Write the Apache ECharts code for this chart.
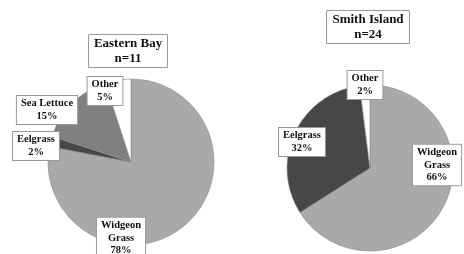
<!DOCTYPE html>
<html>
<head>
<meta charset="utf-8">
<script src="https://cdn.jsdelivr.net/npm/echarts@6/dist/echarts.min.js"></script>
<style>
  html, body { margin: 0; padding: 0; background: #fff; }
  #chart { width: 464px; height: 254px; }
</style>
</head>
<body>
<div id="chart"></div>
<script>
// 两个站点的食物组成（百分比）
const easternCats = ['Widgeon Grass', 'Eelgrass', 'Sea Lettuce', 'Other'];
const easternVals = [78, 2, 15, 5];
const smithCats = ['Widgeon Grass', 'Eelgrass', 'Other'];
const smithVals = [66, 32, 2];

const sliceColors = {
  'Widgeon Grass': '#a9a9a9',
  'Eelgrass': '#474747',
  'Sea Lettuce': '#808080',
  'Other': '#ffffff'
};

// label box centres, keyed by name
const easternLabelPos = {
  'Widgeon Grass': [121, 238],
  'Eelgrass': [36, 146],
  'Sea Lettuce': [47, 110],
  'Other': [105, 91]
};
const smithLabelPos = {
  'Widgeon Grass': [437, 165],
  'Eelgrass': [302, 142],
  'Other': [365, 85]
};

const font = "'Liberation Serif', 'Times New Roman', serif";

function buildData(cats, vals) {
  return cats.map((c, i) => ({ name: c, value: vals[i], itemStyle: { color: sliceColors[c] } }));
}

function pieSeries(cats, vals, center, labelPos) {
  return {
    type: 'pie',
    center,
    radius: 83,
    startAngle: 90,
    clockwise: true,
    silent: true,
    data: buildData(cats, vals),
    itemStyle: { borderColor: '#8a8a8a', borderWidth: 0.6 },
    labelLine: { show: false },
    label: {
      show: true,
      position: 'inside',
      overflow: 'none',
      formatter: p => p.name.replace('Widgeon ', 'Widgeon\n') + '\n' + p.value + '%',
      fontFamily: font,
      fontWeight: 'bold',
      fontSize: 10.5,
      lineHeight: 12.5,
      color: '#111',
      backgroundColor: '#fff',
      borderColor: '#9a9a9a',
      borderWidth: 1,
      padding: [2, 4, 1, 4],
      align: 'center'
    },
    labelLayout: params => {
      const name = cats[params.dataIndex];
      const pos = labelPos[name];
      return { x: pos[0], y: pos[1], align: 'center', verticalAlign: 'middle' };
    }
  };
}

function titleBox(text, x, y) {
  return {
    text,
    left: x,
    top: y,
    textAlign: 'center',
    backgroundColor: '#fff',
    borderColor: '#9a9a9a',
    borderWidth: 1,
    padding: [2, 6, 2, 6],
    textStyle: {
      fontFamily: font,
      fontWeight: 'bold',
      fontSize: 13,
      lineHeight: 15,
      color: '#111'
    }
  };
}

const chart = echarts.init(document.getElementById('chart'));
chart.setOption({
  backgroundColor: '#fff',
  animation: false,
  title: [
    titleBox('Eastern Bay\nn=11', 122, 34),
    titleBox('Smith Island\nn=24', 362, 10)
  ],
  series: [
    pieSeries(easternCats, easternVals, [131, 162], easternLabelPos),
    pieSeries(smithCats, smithVals, [370, 168], smithLabelPos)
  ]
});
</script>
</body>
</html>
